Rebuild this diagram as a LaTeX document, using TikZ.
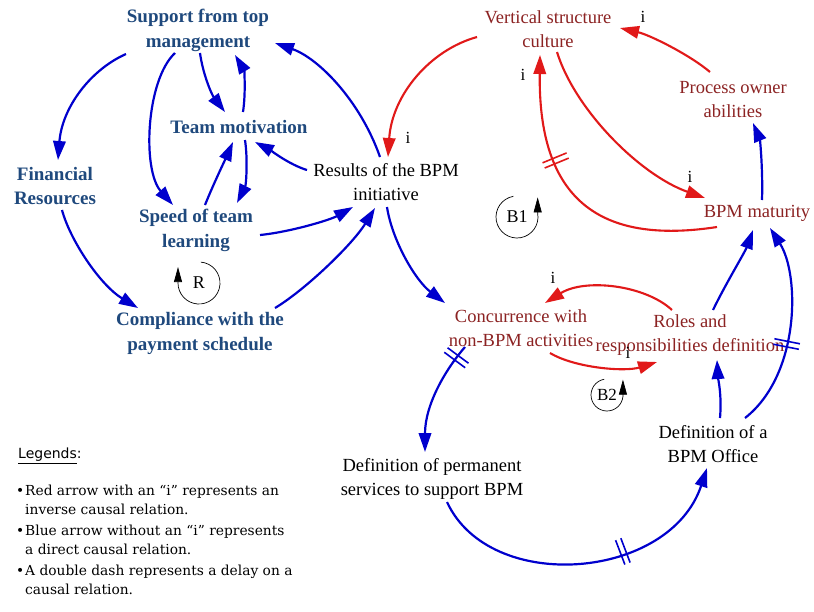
\documentclass[tikz,border=0pt]{standalone}
\usepackage{fontspec}
\setmainfont{Liberation Serif}
\newfontfamily\legfont{DejaVu Serif}
\newfontfamily\legsans{DejaVu Sans}
\usetikzlibrary{arrows.meta,calc,decorations.markings}
\definecolor{nodeblue}{RGB}{31,73,125}
\definecolor{nodered}{RGB}{140,35,35}
\definecolor{arrowblue}{RGB}{0,0,205}
\definecolor{arrowred}{RGB}{225,25,25}
\begin{document}
\begin{tikzpicture}[x=1pt,y=-1pt,
  bt/.style={font=\fontsize{19}{24.5}\selectfont\bfseries, text=nodeblue, align=center, inner sep=0pt},
  rt/.style={font=\fontsize{18.5}{24}\selectfont, text=nodered, align=center, inner sep=0pt},
  kt/.style={font=\fontsize{18.5}{24}\selectfont, text=black, align=center, inner sep=0pt},
  il/.style={font=\fontsize{17}{20}\selectfont, text=black, inner sep=0pt},
  barrow/.style={color=arrowblue, line width=2.2pt, -{Triangle[length=19pt,width=12.5pt]}},
  rarrow/.style={color=arrowred, line width=2.1pt, -{Triangle[length=19pt,width=12.5pt]}},
  delay/.style={postaction={decorate}, decoration={markings, mark=at position #1 with {\draw[line width=1.6pt,-] (-2.8,-13) -- (-2.8,13) (2.8,-13) -- (2.8,13);}}},
  loopc/.style={draw=black, line width=0.7pt, -{Triangle[length=15pt,width=8pt]}},
  ll/.style={font=\fontsize{18}{20}\selectfont, inner sep=0pt},
  leg/.style={font=\legfont\fontsize{13.8}{19}\selectfont, align=left, inner sep=0pt, anchor=north west}
]
\fill[white] (0,0) rectangle (814,611);
\useasboundingbox (0,0) rectangle (814,611);

% nodes
\node[bt] (sup) at (198,30.5) {Support from top\\management};
\node[bt] (tm) at (239,127) {Team motivation};
\node[bt] (fin) at (55,186) {Financial\\Resources};
\node[bt] (speed) at (196,230.5) {Speed of team\\learning};
\node[bt] (comp) at (200,333.5) {Compliance with the\\payment schedule};
\node[kt] (res) at (386,182.5) {Results of the BPM\\initiative};
\node[rt] (vert) at (548,29.5) {Vertical structure\\culture};
\node[rt] (poa) at (733,99.5) {Process owner\\abilities};
\node[rt] (mat) at (757,213) {BPM maturity};
\node[rt] (conc) at (521,328.5) {Concurrence with\\non-BPM activities};
\node[rt] (roles) at (690,335.5) {Roles and\\responsibilities definition};
\node[kt] (office) at (713,444) {Definition of a\\BPM Office};
\node[kt] (perm) at (432,479) {Definition of permanent\\services to support BPM};

% blue connectors
\draw[barrow] ($(sup)+(-72,23.5)$) .. controls (90,70) and (62,108) .. ($(fin)+(3,-26)$);
\draw[barrow] ($(sup)+(-23,22.5)$) .. controls (146,80) and (142,170) .. ($(speed)+(-23,-25.5)$);
\draw[barrow] ($(sup)+(2,22.5)$) .. controls (203,75) and (212,95) .. ($(tm)+(-14,-15)$);
\draw[barrow] ($(tm)+(4,-15)$) .. controls (246,92) and (244,70) .. ($(sup)+(37,24.5)$);
\draw[barrow] ($(tm)+(6,13)$) .. controls (248,160) and (246,185) .. ($(speed)+(41,-27.5)$);
\draw[barrow] ($(speed)+(9,-25.5)$) .. controls (213,185) and (225,160) .. ($(tm)+(-6,15)$);
\draw[barrow] ($(res)+(-79,-12.5)$) .. controls (290,165) and (270,150) .. ($(tm)+(16,15)$);
\draw[barrow] ($(res)+(-6,-25.5)$) .. controls (360,100) and (318,58) .. ($(sup)+(77,12.5)$);
\draw[barrow] ($(speed)+(64,4.5)$) .. controls (290,232) and (330,220) .. ($(res)+(-33,24.5)$);
\draw[barrow] ($(comp)+(75,-25.5)$) .. controls (305,290) and (352,245) .. ($(res)+(-11,25.5)$);
\draw[barrow] ($(fin)+(7,24)$) .. controls (70,240) and (100,285) .. ($(comp)+(-62,-25.5)$);
\draw[barrow] ($(res)+(1,24.5)$) .. controls (392,240) and (415,280) .. ($(conc)+(-76,-25.5)$);
\draw[barrow, delay=0.12] ($(conc)+(-56,18.5)$) .. controls (445,370) and (425,405) .. ($(perm)+(-7,-27)$);
\draw[barrow, delay=0.62] ($(perm)+(15,23)$) .. controls (490,595) and (670,580) .. ($(office)+(-6,24)$);
\draw[barrow] ($(office)+(7,-26)$) .. controls (722,395) and (718,378) .. ($(roles)+(27,24.5)$);
\draw[barrow, delay=0.42] ($(office)+(32,-26)$) .. controls (800,375) and (800,275) .. ($(mat)+(13,15)$);
\draw[barrow] ($(roles)+(23,-25.5)$) .. controls (725,285) and (745,252) .. ($(mat)+(-4,17)$);
\draw[barrow] ($(mat)+(5,-13)$) .. controls (763,170) and (760,140) .. ($(poa)+(20,23.5)$);

% red connectors
\draw[rarrow] ($(vert)+(-71,7.5)$) .. controls (430,50) and (392,95) .. ($(res)+(2,-25.5)$);
\draw[rarrow] ($(poa)+(-23,-27.5)$) .. controls (690,55) and (650,35) .. ($(vert)+(72,-1.5)$);
\draw[rarrow] ($(vert)+(9,22.5)$) .. controls (575,110) and (640,175) .. ($(mat)+(-52,-15)$);
\draw[rarrow, delay=0.64] ($(mat)+(-40,14)$) .. controls (600,245) and (538,200) .. ($(vert)+(-8,25.5)$);
\draw[rarrow] ($(roles)+(-18,-25.5)$) .. controls (645,285) and (585,278) .. ($(conc)+(24,-25.5)$);
\draw[rarrow] ($(conc)+(29,24.5)$) .. controls (575,368) and (625,372) .. ($(roles)+(-33,26.5)$);

% i labels
\node[il] (i1) at (408,138) {i};
\node[il] (i2) at (643,17) {i};
\node[il] (i3) at (690,177) {i};
\node[il] (i4) at (523,75) {i};
\node[il] (i5) at (553,278) {i};
\node[il] (i6) at (628,353) {i};

% loop markers
\node[ll] (b1) at (517,217) {B1};
\draw[loopc] ($(b1)+(-100:21)$) arc[start angle=-100, end angle=-370, radius=21] -- ++(0,-16);
\node[ll] (rl) at (199,283) {R};
\draw[loopc] ($(rl)+(-85:21)$) arc[start angle=-85, end angle=180, radius=21] -- ++(0,-16);
\node[ll, font=\fontsize{17}{20}\selectfont] (b2) at (607,395) {B2};
\draw[loopc] ($(b2)+(-100:16)$) arc[start angle=-100, end angle=-365, radius=16] -- ++(0,-14);

% legend
\node[anchor=north west, inner sep=0pt, font=\legsans\fontsize{14}{16}\selectfont] (legt) at (18,448) {\underline{Legends}:};
\node[leg] (l1) at (25,485) {\llap{\textbullet\hspace{1pt}}Red arrow with an “i” represents an\\inverse causal relation.};
\node[leg] (l2) at (25,525) {\llap{\textbullet\hspace{1pt}}Blue arrow without an “i” represents\\a direct causal relation.};
\node[leg] (l3) at (25,565) {\llap{\textbullet\hspace{1pt}}A double dash represents a delay on a\\causal relation.};
\end{tikzpicture}
\end{document}
